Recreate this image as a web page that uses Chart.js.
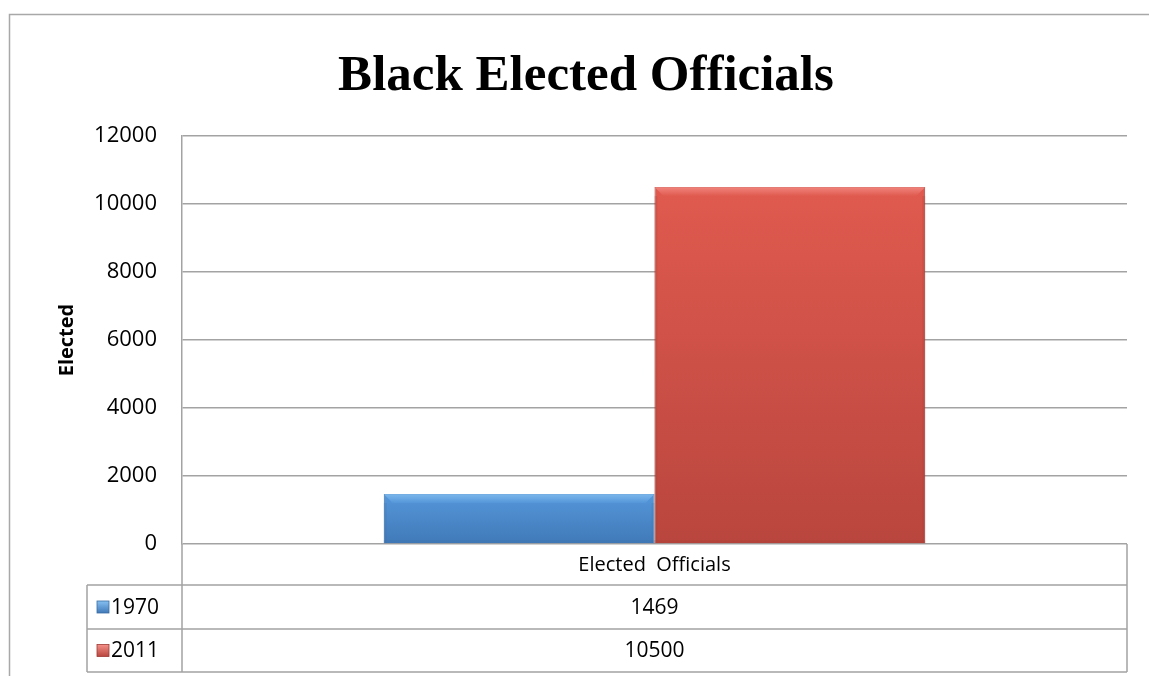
<!DOCTYPE html>
<html>
<head>
<meta charset="utf-8">
<script src="https://cdn.jsdelivr.net/npm/chart.js@4"></script>
<style>
  html, body { margin: 0; padding: 0; background: #fff; }
  #wrap { width: 1149px; height: 676px; }
</style>
</head>
<body>
<div id="wrap"><canvas id="chart" width="1149" height="676"></canvas></div>
<script>
const title = "Black Elected Officials";
const categories = ["Elected  Officials"];
const seriesNames = ["1970", "2011"];
const values1970 = [1469];
const values2011 = [10500];
const yTicks = [0, 2000, 4000, 6000, 8000, 10000, 12000];

const colors = {
    "1970": { top: "#5597da", bottom: "#4079b8", edge: "#3a6ea5", light: "#86c0f2" },
    "2011": { top: "#e05a4f", bottom: "#b9463e", edge: "#9e3a33", light: "#f59089" }
};
const lineGray = "#a3a3a3";
const fontSans = "'Open Sans', 'Liberation Sans', sans-serif";

function barGradient(name) {
    return function(ctx) {
        const chart = ctx.chart;
        if (!chart.chartArea) return colors[name].top;
        const y = chart.scales.y;
        const v = ctx.raw || 0;
        const g = chart.ctx.createLinearGradient(0, y.getPixelForValue(v), 0, y.getPixelForValue(0));
        g.addColorStop(0, colors[name].top);
        g.addColorStop(1, colors[name].bottom);
        return g;
    };
}

// bevel look on each bar
const bevel = {
    id: "bevel",
    afterDatasetsDraw(chart) {
        const ctx = chart.ctx;
        chart.data.datasets.forEach((ds, i) => {
            const c = colors[seriesNames[i]];
            chart.getDatasetMeta(i).data.forEach(bar => {
                const l = bar.x - bar.width / 2, r = bar.x + bar.width / 2;
                const t = bar.y, b = bar.base, d = 9;
                ctx.save();
                const g = ctx.createLinearGradient(0, t, 0, t + d);
                g.addColorStop(0, c.light);
                g.addColorStop(1, c.top);
                ctx.fillStyle = g;
                ctx.globalAlpha = 0.8;
                ctx.beginPath();
                ctx.moveTo(l, t); ctx.lineTo(r, t); ctx.lineTo(r - d, t + d); ctx.lineTo(l + d, t + d);
                ctx.closePath(); ctx.fill();
                ctx.globalAlpha = 0.2;
                ctx.fillStyle = c.edge;
                ctx.fillRect(l, t + d, 3, b - t - d);
                ctx.fillRect(r - 3, t + d, 3, b - t - d);
                ctx.fillRect(l, b - 3, r - l, 3);
                ctx.restore();
            });
        });
    }
};

// frame, title and data table below the plot
const tableAndTitle = {
    id: "tableAndTitle",
    afterDraw(chart) {
        const ctx = chart.ctx;
        const area = chart.chartArea;
        const x = chart.scales.x;
        const legendLeft = 87;
        const rowBottoms = [585, 629, 672];
        ctx.save();
        // outer frame
        ctx.strokeStyle = "#a8a8a8";
        ctx.lineWidth = 1.5;
        ctx.beginPath();
        ctx.moveTo(1149, 14.5); ctx.lineTo(9.5, 14.5); ctx.lineTo(9.5, 676);
        ctx.stroke();

        // title
        ctx.fillStyle = "#000";
        ctx.font = "bold 51px 'Liberation Serif', 'DejaVu Serif', serif";
        ctx.textAlign = "center";
        ctx.textBaseline = "alphabetic";
        ctx.fillText(title, 586, 90);

        // table lines
        ctx.strokeStyle = lineGray;
        ctx.lineWidth = 1.5;
        ctx.beginPath();
        ctx.moveTo(area.left, area.bottom); ctx.lineTo(area.left, rowBottoms[2]);
        ctx.moveTo(area.right, area.bottom); ctx.lineTo(area.right, rowBottoms[2]);
        ctx.moveTo(legendLeft, rowBottoms[0]); ctx.lineTo(legendLeft, rowBottoms[2]);
        rowBottoms.forEach(yy => { ctx.moveTo(legendLeft, yy); ctx.lineTo(area.right, yy); });
        ctx.stroke();

        // category label
        ctx.font = "20px " + fontSans;
        ctx.textBaseline = "middle";
        ctx.fillStyle = "#000";
        categories.forEach((c, i) => {
            ctx.textAlign = "center";
            ctx.fillText(c, x.getPixelForValue(i), (area.bottom + rowBottoms[0]) / 2 + 1);
        });

        // series rows
        ctx.font = "21px " + fontSans;
        chart.data.datasets.forEach((ds, s) => {
            const top = rowBottoms[s], bot = rowBottoms[s + 1];
            const mid = (top + bot) / 2;
            const c = colors[seriesNames[s]];
            const g = ctx.createLinearGradient(0, mid - 6, 0, mid + 6);
            g.addColorStop(0, c.light);
            g.addColorStop(1, c.bottom);
            ctx.fillStyle = g;
            ctx.fillRect(97, mid - 6, 12, 12);
            ctx.strokeStyle = c.edge;
            ctx.lineWidth = 0.8;
            ctx.strokeRect(97, mid - 6, 12, 12);
            ctx.fillStyle = "#000";
            ctx.textAlign = "left";
            ctx.fillText(ds.label, 111, mid + 1);
            ds.data.forEach((v, i) => {
                ctx.textAlign = "center";
                ctx.fillText(String(v), x.getPixelForValue(i), mid + 1);
            });
        });
        ctx.restore();
    }
};

new Chart(document.getElementById("chart"), {
    type: "bar",
    data: {
        labels: categories,
        datasets: [
            {
                label: seriesNames[0],
                data: values1970,
                backgroundColor: barGradient("1970"),
                borderColor: colors["1970"].edge,
                borderWidth: 1
            },
            {
                label: seriesNames[1],
                data: values2011,
                backgroundColor: barGradient("2011"),
                borderColor: colors["2011"].edge,
                borderWidth: 1
            }
        ]
    },
    options: {
        responsive: false,
        animation: false,
        layout: { padding: { top: 136, left: 50, right: 22, bottom: 132 } },
        plugins: {
            legend: { display: false },
            title: { display: false },
            tooltip: { enabled: false }
        },
        datasets: {
            bar: { barPercentage: 1, categoryPercentage: 0.573 }
        },
        scales: {
            x: { display: false },
            y: {
                min: 0,
                max: 12000,
                afterFit(scale) { scale.width = 132; },
                afterBuildTicks(scale) { scale.ticks = yTicks.map(v => ({ value: v })); },
                ticks: {
                    padding: 25,
                    color: "#000",
                    font: { family: fontSans, size: 22 },
                    callback: v => String(v)
                },
                grid: { color: lineGray, lineWidth: 1.5, drawTicks: false },
                border: { display: true, color: lineGray, width: 1.5 },
                title: {
                    display: true,
                    text: "Elected",
                    color: "#000",
                    font: { family: fontSans, size: 20, weight: "bold" },
                    padding: { top: 5, bottom: 0 }
                }
            }
        }
    },
    plugins: [bevel, tableAndTitle]
});
</script>
</body>
</html>
